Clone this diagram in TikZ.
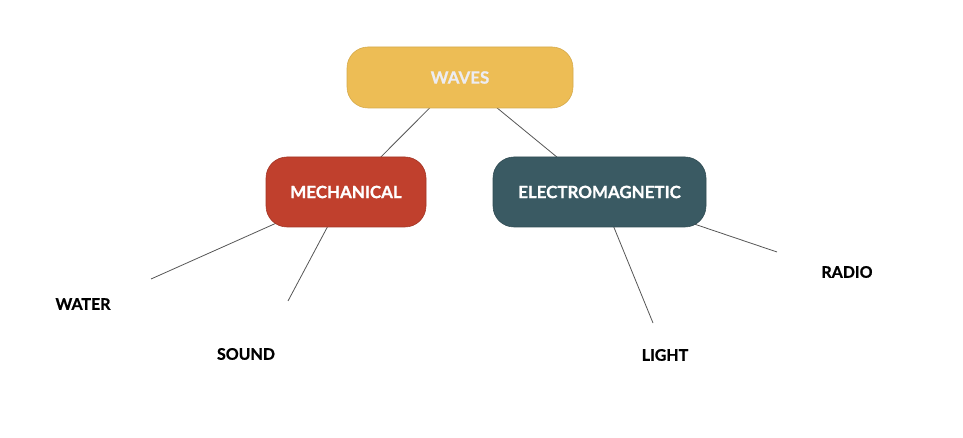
\documentclass[tikz,border=0pt]{standalone}
\usepackage{fontspec}
\setmainfont{Lato}[BoldFeatures={FakeBold=0.9}]
\usepackage{tikz}
\usetikzlibrary{positioning,backgrounds}
\usepackage{xcolor}
\definecolor{wvyellow}{RGB}{237,189,85}
\definecolor{wvred}{RGB}{192,64,45}
\definecolor{wvteal}{RGB}{58,90,99}
\definecolor{wvpale}{RGB}{236,236,242}
\definecolor{wvline}{RGB}{85,85,85}
\tikzstyle{link} = [draw=wvline, line width=0.8pt]
\tikzstyle{topic} = [rectangle, rounded corners=21bp, inner sep=0pt, text centered, text=white, line width=0.6pt, font=\bfseries\fontsize{17}{20}\selectfont]
\tikzstyle{leaf} = [inner sep=0pt, text=black, font=\bfseries\fontsize{16}{19}\selectfont]

\begin{document}
\begin{tikzpicture}[x=1bp, y=-1bp]
\useasboundingbox (0,0) rectangle (963,438);
% Categories
\node (waves) [topic, fill=wvyellow, draw=wvyellow!90!black, text=wvpale, minimum width=226bp, minimum height=61bp] at (460,77.5) {WAVES};
\node (mechanical) [topic, fill=wvred, draw=wvred!85!black, minimum width=160bp, minimum height=70bp] at (346,192) {MECHANICAL};
\node (electro) [topic, fill=wvteal, draw=wvteal!85!black, minimum width=213bp, minimum height=70bp] at (599.5,192) {ELECTROMAGNETIC};

% Examples
\node (water) [leaf] at (83,304) {WATER};
\node (sound) [leaf] at (246,354) {SOUND};
\node (light) [leaf] at (665,355) {LIGHT};
\node (radio) [leaf] at (847,272) {RADIO};

% Free line ends
\coordinate (water_end) at (151,279);
\coordinate (sound_end) at (288,301);
\coordinate (light_end) at (653,323);
\coordinate (radio_end) at (777,252);

\begin{scope}[on background layer]
\draw[link] (waves.center) -- (mechanical.center);
\draw[link] (waves.center) -- (electro.center);
\draw[link] (mechanical.center) -- (water_end);
\draw[link] (mechanical.center) -- (sound_end);
\draw[link] (electro.center) -- (light_end);
\draw[link] (electro.center) -- (radio_end);
\end{scope}
\end{tikzpicture}
\end{document}
